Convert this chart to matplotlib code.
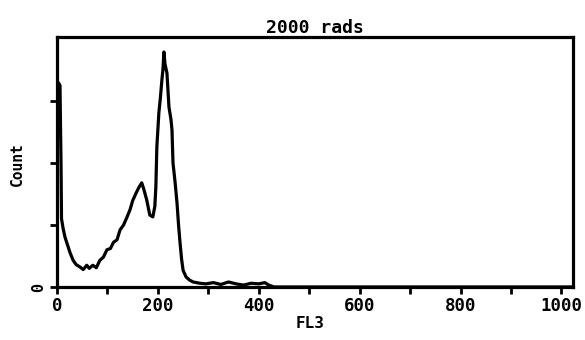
import numpy as np
import matplotlib
matplotlib.use("Agg")
import matplotlib.pyplot as plt

# FL3 histogram (channel, count in tick units)
channel = [0, 2, 4, 6, 7, 8, 9, 12, 16, 20, 26, 32, 38, 46, 52, 59, 64, 71, 78, 85,
           92, 99, 106, 112, 119, 125, 132, 139, 145, 150, 156, 162, 168, 172,
           178, 184, 190, 194, 196, 198, 202, 205, 208, 210, 212, 214, 218, 222,
           226, 228, 230, 234, 238, 241, 244, 247, 250, 256, 263, 270, 283,
           295, 310, 325, 340, 355, 370, 385, 400, 412, 420, 430, 1023]
count = [3.30, 3.30, 3.28, 3.25, 2.60, 2.00, 1.10, 0.95, 0.80, 0.70, 0.55, 0.43,
         0.36, 0.32, 0.28, 0.35, 0.30, 0.35, 0.31, 0.43, 0.48, 0.60, 0.62, 0.72,
         0.76, 0.92, 1.00, 1.13, 1.25, 1.39, 1.50, 1.60, 1.68, 1.58, 1.40, 1.16,
         1.13, 1.30, 1.61, 2.26, 2.81, 3.05, 3.34, 3.50, 3.79, 3.60, 3.45, 2.90,
         2.70, 2.53, 2.00, 1.70, 1.35, 1.00, 0.71, 0.45, 0.27, 0.16, 0.11, 0.08,
         0.06, 0.05, 0.07, 0.04, 0.08, 0.05, 0.03, 0.06, 0.05, 0.07, 0.03, 0.0, 0.0]

xticks = [0, 200, 400, 600, 800, 1000]
xminor = [100, 300, 500, 700, 900]
yticks = [0, 1, 2, 3]

mono = "DejaVu Sans Mono"

fig = plt.figure(figsize=(5.85, 3.4), dpi=100)
ax = fig.add_axes([0.0974, 0.156, 0.8821, 0.735])

ax.plot(channel, count, color="black", lw=2.3, solid_joinstyle="round")

ax.set_xlim(0, 1023)
ax.set_ylim(0, 4.03)

for s in ax.spines.values():
    s.set_linewidth(2.3)

ax.set_xticks(xticks)
ax.set_xticks(xminor, minor=True)
ax.set_xticklabels([str(t) for t in xticks], family=mono, fontweight="bold",
                   fontsize=12.5)
ax.set_yticks(yticks)
ax.set_yticklabels(["0", "", "", ""], family=mono, fontweight="bold",
                   fontsize=11, rotation=90, va="center")
ax.tick_params(axis="both", which="both", direction="out", length=5, width=2)
ax.tick_params(axis="x", pad=2)
ax.tick_params(axis="y", pad=3)

ax.set_title("2000 rads", family=mono, fontweight="bold", fontsize=13, pad=3)
ax.set_ylabel("Count", family=mono, fontweight="bold", fontsize=10.5)
ax.yaxis.set_label_coords(-0.062, 0.49)
ax.set_xlabel("FL3", family=mono, fontweight="bold", fontsize=11.5, va="center")
ax.xaxis.set_label_coords(0.49, -0.145)

fig.savefig("out.png", dpi=100)
